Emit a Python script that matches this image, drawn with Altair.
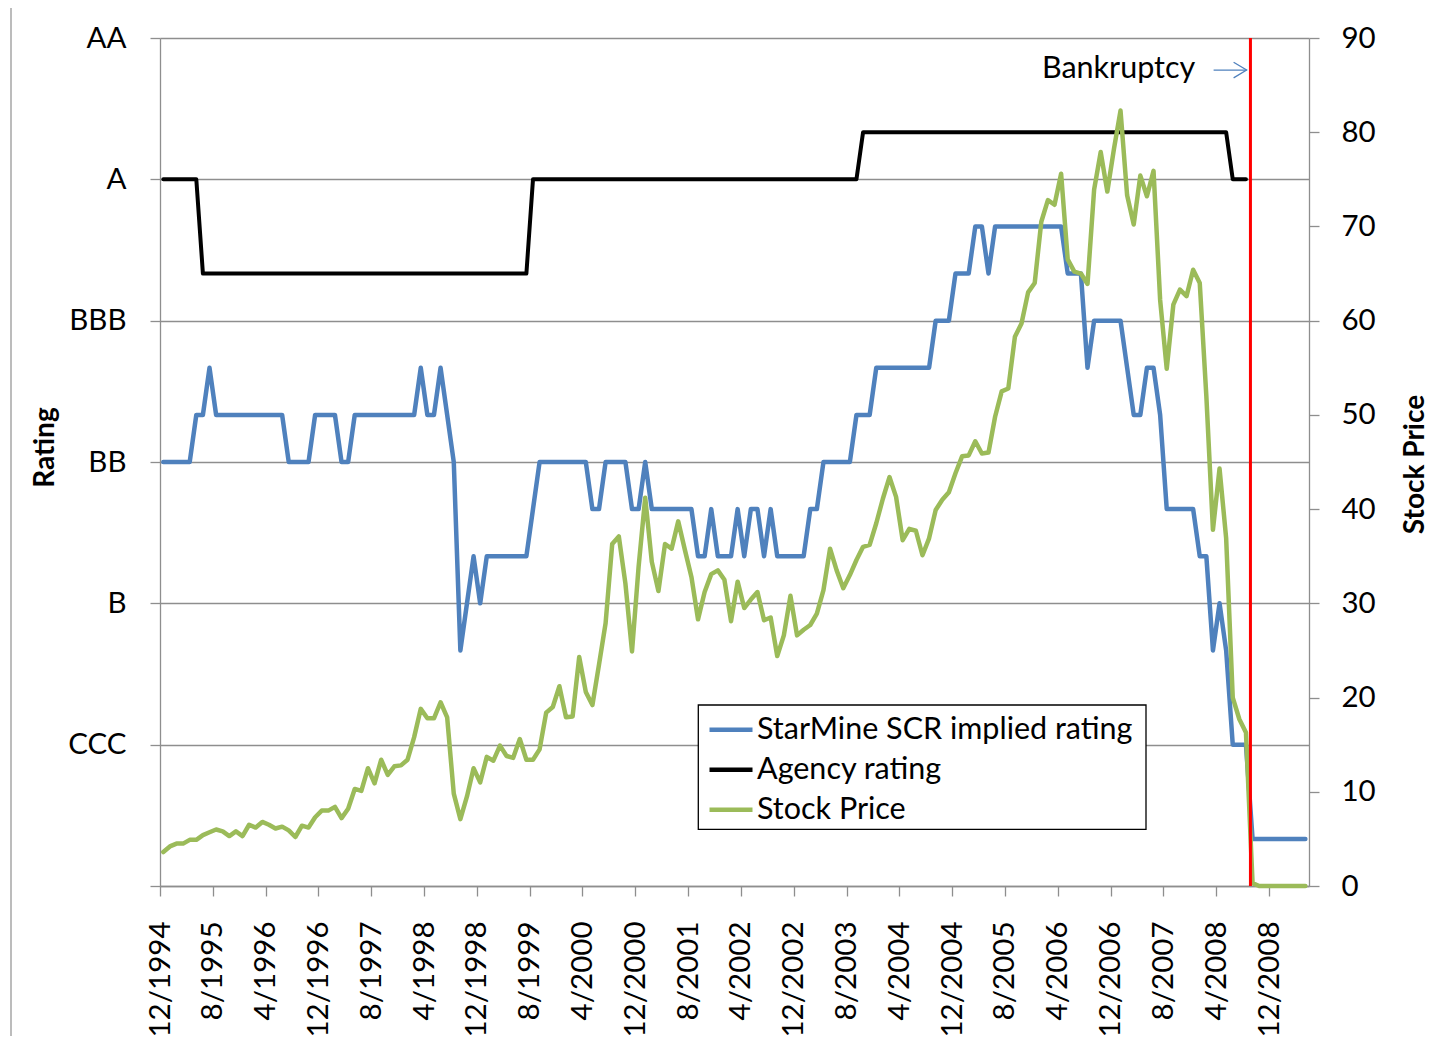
import json
import pandas as pd
import altair as alt

# ---------------- data ----------------
tick_labels = ["12/1994", "8/1995", "4/1996", "12/1996", "8/1997", "4/1998",
               "12/1998", "8/1999", "4/2000", "12/2000", "8/2001", "4/2002",
               "12/2002", "8/2003", "4/2004", "12/2004", "8/2005", "4/2006",
               "12/2006", "8/2007", "4/2008", "12/2008"]
rating_labels = ["", "CCC", "B", "BB", "BBB", "A", "AA"]
rating_ticks = [0, 3, 6, 9, 12, 15, 18]
price_ticks = [0, 10, 20, 30, 40, 50, 60, 70, 80, 90]

series_names = ["StarMine SCR implied rating", "Agency rating", "Stock Price"]
series_colors = ["#4F81BD", "#000000", "#9BBB59"]

# rating notches: 3 = CCC, 6 = B, 9 = BB, 12 = BBB, 15 = A, 18 = AA ; monthly from 12/1994
starmine = [
    9, 9, 9, 9, 9, 10, 10, 11, 10, 10,
    10, 10, 10, 10, 10, 10, 10, 10, 10, 9,
    9, 9, 9, 10, 10, 10, 10, 9, 9, 10,
    10, 10, 10, 10, 10, 10, 10, 10, 10, 11,
    10, 10, 11, 10, 9, 5, 6, 7, 6, 7,
    7, 7, 7, 7, 7, 7, 8, 9, 9, 9,
    9, 9, 9, 9, 9, 8, 8, 9, 9, 9,
    9, 8, 8, 9, 8, 8, 8, 8, 8, 8,
    8, 7, 7, 8, 7, 7, 7, 8, 7, 8,
    8, 7, 8, 7, 7, 7, 7, 7, 8, 8,
    9, 9, 9, 9, 9, 10, 10, 10, 11, 11,
    11, 11, 11, 11, 11, 11, 11, 12, 12, 12,
    13, 13, 13, 14, 14, 13, 14, 14, 14, 14,
    14, 14, 14, 14, 14, 14, 14, 13, 13, 13,
    11, 12, 12, 12, 12, 12, 11, 10, 10, 11,
    11, 10, 8, 8, 8, 8, 8, 7, 7, 5,
    6, 5, 3, 3, 3, 1, 1, 1, 1, 1,
    1, 1, 1, 1,
]

agency = [
    15, 15, 15, 15, 15, 15, 13, 13, 13, 13,
    13, 13, 13, 13, 13, 13, 13, 13, 13, 13,
    13, 13, 13, 13, 13, 13, 13, 13, 13, 13,
    13, 13, 13, 13, 13, 13, 13, 13, 13, 13,
    13, 13, 13, 13, 13, 13, 13, 13, 13, 13,
    13, 13, 13, 13, 13, 13, 15, 15, 15, 15,
    15, 15, 15, 15, 15, 15, 15, 15, 15, 15,
    15, 15, 15, 15, 15, 15, 15, 15, 15, 15,
    15, 15, 15, 15, 15, 15, 15, 15, 15, 15,
    15, 15, 15, 15, 15, 15, 15, 15, 15, 15,
    15, 15, 15, 15, 15, 15, 16, 16, 16, 16,
    16, 16, 16, 16, 16, 16, 16, 16, 16, 16,
    16, 16, 16, 16, 16, 16, 16, 16, 16, 16,
    16, 16, 16, 16, 16, 16, 16, 16, 16, 16,
    16, 16, 16, 16, 16, 16, 16, 16, 16, 16,
    16, 16, 16, 16, 16, 16, 16, 16, 16, 16,
    16, 16, 15, 15, 15,
]

price = [
    3.6, 4.2, 4.5, 4.5, 4.9, 4.9, 5.4, 5.7, 6.0, 5.8,
    5.3, 5.8, 5.3, 6.5, 6.2, 6.8, 6.5, 6.1, 6.3, 5.9,
    5.2, 6.4, 6.2, 7.3, 8.0, 8.0, 8.4, 7.2, 8.2, 10.3,
    10.1, 12.5, 10.9, 13.4, 11.8, 12.7, 12.8, 13.4, 15.8, 18.8,
    17.8, 17.8, 19.5, 17.9, 9.8, 7.1, 9.5, 12.5, 11.0, 13.7,
    13.3, 14.9, 13.8, 13.6, 15.6, 13.4, 13.4, 14.5, 18.4, 19.0,
    21.2, 17.9, 18.0, 24.3, 20.6, 19.2, 23.5, 27.9, 36.3, 37.1,
    32.1, 24.9, 33.9, 41.2, 34.4, 31.3, 36.3, 35.8, 38.7, 35.7,
    32.8, 28.3, 31.2, 33.1, 33.5, 32.5, 28.1, 32.3, 29.5, 30.4,
    31.2, 28.2, 28.5, 24.4, 26.6, 30.8, 26.6, 27.2, 27.7, 28.9,
    31.4, 35.8, 33.5, 31.6, 33.0, 34.6, 36.0, 36.2, 38.5, 41.1,
    43.4, 41.3, 36.7, 37.9, 37.7, 35.1, 36.9, 39.9, 41.0, 41.8,
    43.8, 45.6, 45.7, 47.2, 45.9, 46.0, 49.8, 52.5, 52.8, 58.3,
    59.7, 63.0, 64.0, 70.5, 72.8, 72.3, 75.6, 66.5, 65.2, 65.0,
    63.9, 73.9, 77.9, 73.7, 78.2, 82.3, 73.3, 70.2, 75.4, 73.2,
    75.9, 62.2, 54.9, 61.7, 63.3, 62.6, 65.4, 64.0, 52.0, 37.8,
    44.3, 36.9, 20.0, 17.7, 16.3, 0.3, 0.0, 0.0, 0.0, 0.0,
    0.0, 0.0, 0.0, 0.0,
]

bankruptcy_month = 164.68
annotation_text = "Bankruptcy"
annotation_month = 144.7
annotation_price = 85.8
arrow_start = 159.1
arrow_end = 164.1
arrow_price = 86.6

# ---------------- tables ----------------
months = list(range(len(starmine)))
month_names = [f"{(11 + m) % 12 + 1}/{1994 + (11 + m) // 12}" for m in months]

df_star = pd.DataFrame({"month": months, "label": month_names,
                        "rating": starmine, "series": series_names[0]})
df_agency = pd.DataFrame({"month": months[:len(agency)], "label": month_names[:len(agency)],
                          "rating": agency, "series": series_names[1]})
df_price = pd.DataFrame({"month": months, "label": month_names,
                         "price": price, "series": series_names[2]})

FONT = "Lato"
GRAY = "#8E8E8E"

x_enc = alt.X(
    "month:Q",
    scale=alt.Scale(domain=[-0.5, 173.55], nice=False, zero=False),
    axis=alt.Axis(
        values=[8 * k - 0.5 for k in range(len(tick_labels))],
        labelExpr=f"{json.dumps(tick_labels)}[round((datum.value + 0.5) / 8)]",
        labelAngle=270, labelFont=FONT, labelFontSize=29.5, labelColor="black",
        labelPadding=25, labelOverlap=False, labelFlush=False,
        tickSize=10, tickColor=GRAY, tickWidth=1.3,
        domainColor=GRAY, domainWidth=1.3, grid=False, title=None,
    ),
)

y_left = alt.Y(
    "rating:Q",
    scale=alt.Scale(domain=[0, 18], nice=False, zero=False),
    axis=alt.Axis(
        orient="left", values=rating_ticks,
        labelExpr=f"{json.dumps(rating_labels)}[round(datum.value / 3)]",
        labelFont=FONT, labelFontSize=29.5, labelColor="black", labelPadding=24,
        labelFlush=False, labelOverlap=False,
        tickSize=10, tickColor=GRAY, tickWidth=1.3,
        domainColor=GRAY, domainWidth=1.3,
        grid=True, gridColor=GRAY, gridWidth=1.3,
        title="Rating", titleFont=FONT, titleFontSize=28, titleFontWeight="bold",
        titleColor="black", titleAngle=270, titleAlign="center",
        titleBaseline="middle", titleX=-115, titleY=409,
    ),
)

y_right = alt.Y(
    "price:Q",
    scale=alt.Scale(domain=[0, 90], nice=False, zero=False),
    axis=alt.Axis(
        orient="right", values=price_ticks,
        labelFont=FONT, labelFontSize=29.5, labelColor="black", labelPadding=22,
        labelFlush=False, labelOverlap=False,
        tickSize=10, tickColor=GRAY, tickWidth=1.3,
        domainColor=GRAY, domainWidth=1.3, grid=False,
        title="Stock Price", titleFont=FONT, titleFontSize=28, titleFontWeight="bold",
        titleColor="black", titleAngle=270, titleAlign="center",
        titleBaseline="middle", titleX=106, titleY=426,
    ),
)

color_enc = alt.Color(
    "series:N",
    scale=alt.Scale(domain=series_names, range=series_colors),
    legend=alt.Legend(
        title=None, orient="none", legendX=547, legendY=667.7,
        symbolType="stroke", symbolSize=1849, symbolStrokeWidth=4.5,
        labelFont=FONT, labelFontSize=30.5, labelColor="black",
        labelOffset=2, labelLimit=0, padding=0, rowPadding=-1,
    ),
)

legend_box = alt.Chart(pd.DataFrame({"box": [0]})).mark_rect(
    fill="white", stroke="black", strokeWidth=1.3
).encode(x=alt.value(538.3), x2=alt.value(986), y=alt.value(667), y2=alt.value(791.3))

frame_line = alt.Chart(pd.DataFrame({"edge": [0]})).mark_rule(
    color="#A6A6A6", strokeWidth=1.5
).encode(x=alt.value(-149), y=alt.value(-30), y2=alt.value(1010))

line_style = dict(strokeCap="round", strokeJoin="round")

blue_line = alt.Chart(df_star).mark_line(strokeWidth=4.5, **line_style).encode(
    x=x_enc, y=y_left, color=color_enc, tooltip=["label:N", "rating:Q"])
black_line = alt.Chart(df_agency).mark_line(strokeWidth=4, **line_style).encode(
    x=x_enc, y=y_left, color=color_enc)

green_line = alt.Chart(df_price).mark_line(strokeWidth=4.5, **line_style).encode(
    x=x_enc, y=y_right, color=color_enc, tooltip=["label:N", "price:Q"])

red_rule = alt.Chart(pd.DataFrame({"month": [bankruptcy_month]})).mark_rule(
    color="#FF0000", strokeWidth=3).encode(x=x_enc)

note = alt.Chart(pd.DataFrame({"month": [annotation_month], "price": [annotation_price],
                               "note": [annotation_text]})).mark_text(
    font=FONT, fontSize=30.5, align="center", baseline="alphabetic", color="black"
).encode(x=x_enc, y=y_right, text="note:N")

arrow = alt.Chart(pd.DataFrame({"month": [arrow_start], "month_end": [arrow_end],
                                "price": [arrow_price]})).mark_rule(
    color="#4F81BD", strokeWidth=1.3).encode(x=x_enc, x2="month_end:Q", y=y_right)

arrowhead = alt.Chart(pd.DataFrame({"month": [arrow_end], "price": [arrow_price]})).mark_point(
    shape="M -1 -0.6 L 0 0 L -1 0.6", filled=False, size=676, strokeWidth=1.3,
    color="#4F81BD", opacity=1).encode(x=x_enc, y=y_right)

left = alt.layer(legend_box, frame_line, blue_line, black_line)
right = alt.layer(green_line, red_rule, note, arrow, arrowhead)

chart = alt.layer(left, right).resolve_scale(y="independent").properties(
    width=1149, height=848,
    autosize=alt.AutoSizeParams(type="none"),
    padding={"left": 152, "top": 30, "right": 120, "bottom": 150},
).configure_view(stroke=None)

chart.save("out.html", embed_options={"renderer": "svg", "actions": False})
